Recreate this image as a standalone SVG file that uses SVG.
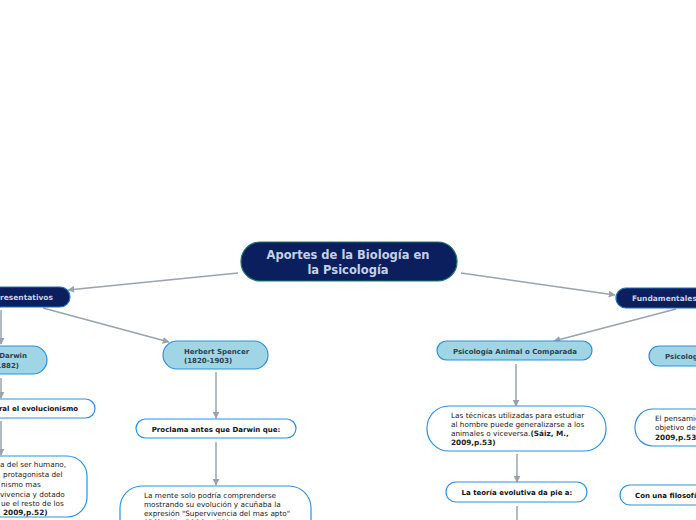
<svg xmlns="http://www.w3.org/2000/svg" width="696" height="520" viewBox="0 0 696 520">
<defs>
<marker id="ah" viewBox="0 0 10 10" refX="9" refY="5" markerWidth="7" markerHeight="7" orient="auto" markerUnits="userSpaceOnUse">
<path d="M0,0 L10,5 L0,10 z" fill="#9aa3ad"/>
</marker>
<style>
.c{stroke:#9aa3ad;stroke-width:1.5;fill:none}
.dk{fill:#0b1f5e;stroke:#1f6fc0;stroke-width:1.2}
.lb{fill:#a0d5e5;stroke:#2b91dc;stroke-width:1.2}
.wh{fill:#ffffff;stroke:#2b91dc;stroke-width:1.2}
.t{font-family:"DejaVu Sans",Verdana,sans-serif}
.tw{fill:#c3d2e8;font-weight:bold}
.tb{fill:#2e3f52;font-weight:bold;font-size:7px}
.tk{fill:#111;font-weight:bold;font-size:7px}
.tr{fill:#222;font-size:7.3px}
.b{font-weight:bold}
</style>
</defs>
<rect width="696" height="520" fill="#ffffff"/>
<g id="connectors">
<line class="c" x1="238" y1="273" x2="68" y2="290" marker-end="url(#ah)"/>
<line class="c" x1="461" y1="273" x2="615" y2="295" marker-end="url(#ah)"/>
<line class="c" x1="43" y1="308" x2="169" y2="342" marker-end="url(#ah)"/>
<line class="c" x1="1" y1="310" x2="1" y2="344" marker-end="url(#ah)"/>
<line class="c" x1="1" y1="378" x2="1" y2="398" marker-end="url(#ah)"/>
<line class="c" x1="1" y1="421" x2="1" y2="455" marker-end="url(#ah)"/>
<line class="c" x1="216" y1="372" x2="216" y2="418" marker-end="url(#ah)"/>
<line class="c" x1="216" y1="442" x2="216" y2="485" marker-end="url(#ah)"/>
<line class="c" x1="676" y1="309" x2="554" y2="341" marker-end="url(#ah)"/>
<line class="c" x1="516" y1="364" x2="516" y2="406" marker-end="url(#ah)"/>
<line class="c" x1="517" y1="454" x2="517" y2="482" marker-end="url(#ah)"/>
<line class="c" x1="517" y1="506" x2="517" y2="522"/>
</g>
<g id="central">
<rect x="241" y="242" width="216" height="39" rx="19" fill="#0b1f5e" stroke="#1e7a66" stroke-width="1.2"/>
<text class="t tw" x="348" y="259" font-size="11.5" text-anchor="middle">Aportes de la Biología en</text>
<text class="t tw" x="348" y="274" font-size="11.5" text-anchor="middle">la Psicología</text>
</g>
<g id="representativos">
<rect class="dk" x="-40" y="287" width="110" height="20" rx="10"/>
<text class="t tw" x="0" y="300" font-size="7.5">resentativos</text>
</g>
<g id="fundamentales">
<rect class="dk" x="616" y="288" width="110" height="20" rx="10"/>
<text class="t tw" x="632" y="301" font-size="7.5">Fundamentales</text>
</g>
<g id="darwin">
<rect class="lb" x="-40" y="346" width="87" height="28" rx="14"/>
<text class="t tb" x="27" y="358" text-anchor="end">Darwin</text>
<text class="t tb" x="19" y="368" text-anchor="end">1882)</text>
</g>
<g id="evolucionismo">
<rect class="wh" x="-40" y="399" width="135" height="19" rx="9.5"/>
<text class="t tk" x="78" y="411" text-anchor="end">ral el evolucionismo</text>
</g>
<g id="ser-humano">
<rect class="wh" x="-40" y="456" width="127" height="61" rx="20"/>
<text class="t tr" x="0" y="467">a del ser humano,</text>
<text class="t tr" x="3" y="477">protagonista del</text>
<text class="t tr" x="1" y="487">nismo mas</text>
<text class="t tr" x="0" y="497">vivencia y dotado</text>
<text class="t tr" x="1" y="506">ue el resto de los</text>
<text class="t tr b" x="3" y="515">2009,p.52)</text>
</g>
<g id="spencer">
<rect class="lb" x="163" y="341" width="105" height="28" rx="14"/>
<text class="t tb" x="184" y="354">Herbert Spencer</text>
<text class="t tb" x="184" y="363">(1820-1903)</text>
</g>
<g id="proclama">
<rect class="wh" x="136" y="419" width="160" height="19" rx="9.5"/>
<text class="t tk" x="216" y="432" text-anchor="middle">Proclama antes que Darwin que:</text>
</g>
<g id="mente">
<rect class="wh" x="120" y="486" width="191" height="60" rx="22"/>
<text class="t tr" x="144" y="498">La mente solo podría comprenderse</text>
<text class="t tr" x="144" y="507">mostrando su evolución y acuñaba la</text>
<text class="t tr" x="144" y="516">expresión "Supervivencia del mas apto"</text>
<text class="t tr b" x="144" y="525">(Sáiz, M., 2009,p.52)</text>
</g>
<g id="animal">
<rect class="lb" x="437" y="341" width="155" height="19" rx="9.5"/>
<text class="t tb" x="515" y="354" text-anchor="middle">Psicología Animal o Comparada</text>
</g>
<g id="tecnicas">
<rect class="wh" x="427" y="406" width="179" height="45" rx="22"/>
<text class="t tr" x="451" y="418">Las técnicas utilizadas para estudiar</text>
<text class="t tr" x="451" y="427">al hombre puede generalizarse a los</text>
<text class="t tr" x="451" y="436">animales o viceversa.<tspan class="b">(Sáiz, M.,</tspan></text>
<text class="t tr b" x="451" y="445">2009,p.53)</text>
</g>
<g id="teoria">
<rect class="wh" x="446" y="482" width="141" height="20" rx="10"/>
<text class="t tk" x="517" y="495" text-anchor="middle">La teoría evolutiva da pie a:</text>
</g>
<g id="psicologia-r">
<rect class="lb" x="649" y="346" width="90" height="20" rx="10"/>
<text class="t tb" x="665" y="359">Psicología</text>
</g>
<g id="pensamiento">
<rect class="wh" x="635" y="409" width="100" height="37" rx="18"/>
<text class="t tr" x="655" y="421">El pensamiento</text>
<text class="t tr" x="655" y="430">objetivo de</text>
<text class="t tr b" x="655" y="440">2009,p.53)</text>
</g>
<g id="filosofia">
<rect class="wh" x="620" y="485" width="110" height="20" rx="10"/>
<text class="t tk" x="635" y="498">Con una filosofía</text>
</g>
</svg>
